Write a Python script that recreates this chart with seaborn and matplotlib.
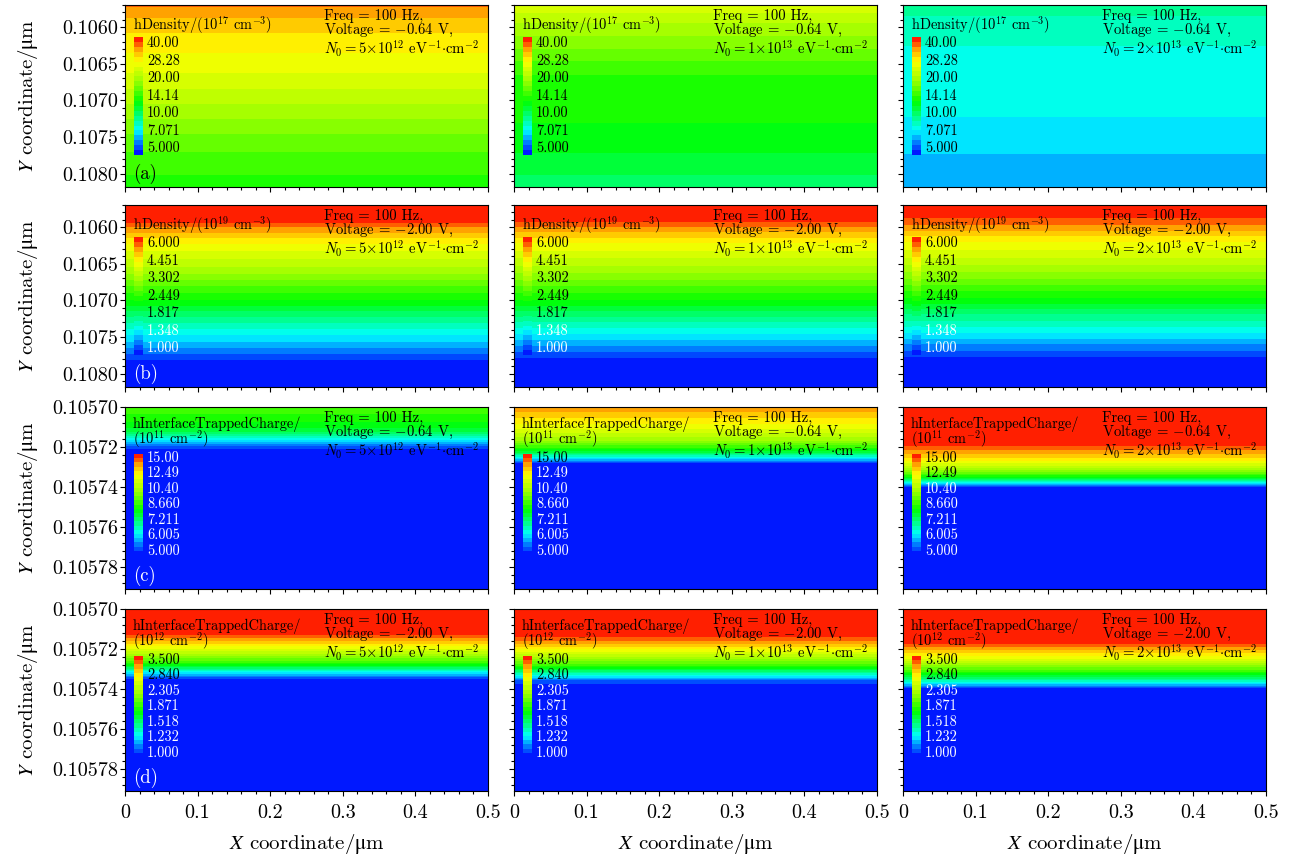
import numpy as np
import matplotlib
matplotlib.use("Agg")
import matplotlib.pyplot as plt
import seaborn as sns
from matplotlib.colors import LinearSegmentedColormap, LogNorm
from matplotlib.ticker import FixedLocator, MultipleLocator

# ---------------- data ----------------
X_EDGES = [0.0, 0.5]
X_TICKS = [0.0, 0.1, 0.2, 0.3, 0.4, 0.5]
X_TICK_LABELS = ["0", "0.1", "0.2", "0.3", "0.4", "0.5"]

N0_MANTISSA = ["5", "1", "2"]
N0_EXPONENT = ["12", "13", "13"]
ROW_VOLTAGE = ["0.64", "2.00", "0.64", "2.00"]
ROW_TAG = ["(a)", "(b)", "(c)", "(d)"]

# rows (a),(b): hole density profiles along Y (uniform in X)
Y_DENS_A = [0.10570, 0.10590, 0.10610, 0.10630, 0.10660, 0.10700, 0.10740, 0.10780, 0.10820]
HDENS_A_N0_5E12 = [34.0, 30.5, 28.0, 26.3, 24.0, 20.4, 17.2, 14.8, 13.6]
HDENS_A_N0_1E13 = [23.5, 20.5, 18.5, 16.8, 14.3, 13.2, 12.9, 11.6, 10.3]
HDENS_A_N0_2E13 = [9.7, 8.98, 8.62, 8.35, 8.15, 7.95, 7.52, 6.98, 6.65]

Y_DENS_B = [0.10570, 0.10590, 0.10600, 0.10620, 0.10640, 0.10680, 0.10700, 0.10720, 0.10740, 0.10760, 0.10780, 0.10820]
HDENS_B_N0_5E12 = [6.0, 5.85, 5.2, 4.2, 3.65, 2.65, 2.25, 1.85, 1.55, 1.30, 1.08, 1.0]
HDENS_B_N0_1E13 = [6.0, 5.80, 5.15, 4.2, 3.60, 2.65, 2.25, 1.85, 1.52, 1.28, 1.06, 1.0]
HDENS_B_N0_2E13 = [6.0, 5.50, 5.0, 4.15, 3.60, 2.60, 2.20, 1.80, 1.50, 1.25, 1.05, 1.0]

# rows (c),(d): interface trapped charge profiles along Y
Y_ITC = [0.105700, 0.105704, 0.105708, 0.105712, 0.105716, 0.105720, 0.105724,
         0.105728, 0.105732, 0.105736, 0.105740, 0.105744, 0.105800]
ITC_C_N0_5E12 = [9.0, 8.6, 8.2, 7.7, 6.4, 5.3, 5.0, 5.0, 5.0, 5.0, 5.0, 5.0, 5.0]
ITC_C_N0_1E13 = [13.5, 12.8, 12.0, 11.2, 10.2, 8.8, 7.0, 5.2, 5.0, 5.0, 5.0, 5.0, 5.0]
ITC_C_N0_2E13 = [15.0, 15.0, 15.0, 15.0, 15.0, 14.2, 13.0, 11.5, 9.8, 7.6, 5.2, 5.0, 5.0]
ITC_D_N0_5E12 = [3.5, 3.5, 3.5, 3.45, 3.0, 2.55, 2.15, 1.75, 1.25, 1.0, 1.0, 1.0, 1.0]
ITC_D_N0_1E13 = [3.5, 3.5, 3.5, 3.5, 3.15, 2.7, 2.3, 1.9, 1.45, 1.08, 1.0, 1.0, 1.0]
ITC_D_N0_2E13 = [3.5, 3.5, 3.5, 3.5, 3.5, 3.05, 2.65, 2.2, 1.8, 1.4, 1.0, 1.0, 1.0]

# colour-bar ranges and labels per row (bottom to top)
CB_RANGE = [(5.0, 40.0), (1.0, 6.0), (5.0, 15.0), (1.0, 3.5)]
CB_TICK_LABELS = [
    ["5.000", "7.071", "10.00", "14.14", "20.00", "28.28", "40.00"],
    ["1.000", "1.348", "1.817", "2.449", "3.302", "4.451", "6.000"],
    ["5.000", "6.005", "7.211", "8.660", "10.40", "12.49", "15.00"],
    ["1.000", "1.232", "1.518", "1.871", "2.305", "2.840", "3.500"],
]
CB_TITLE = ["hDensity/(10$^{17}$ cm$^{-3}$)",
            "hDensity/(10$^{19}$ cm$^{-3}$)",
            "hInterfaceTrappedCharge/\n(10$^{11}$ cm$^{-2}$)",
            "hInterfaceTrappedCharge/\n(10$^{12}$ cm$^{-2}$)"]
# number of colour-bar labels (from the bottom) drawn in white
CB_WHITE_COUNT = [[0, 0, 0], [2, 2, 2], [7, 6, 5], [5, 5, 5]]
TAG_COLOR = ["black", "white", "white", "white"]

Y_LIMITS = [(0.10818, 0.10570), (0.10818, 0.10570), (0.105791, 0.10570), (0.105791, 0.10570)]
Y_TICKS = [
    [0.1060, 0.1065, 0.1070, 0.1075, 0.1080],
    [0.1060, 0.1065, 0.1070, 0.1075, 0.1080],
    [0.10570, 0.10572, 0.10574, 0.10576, 0.10578],
    [0.10570, 0.10572, 0.10574, 0.10576, 0.10578],
]
Y_TICK_LABELS = [
    ["0.1060", "0.1065", "0.1070", "0.1075", "0.1080"],
    ["0.1060", "0.1065", "0.1070", "0.1075", "0.1080"],
    ["0.10570", "0.10572", "0.10574", "0.10576", "0.10578"],
    ["0.10570", "0.10572", "0.10574", "0.10576", "0.10578"],
]
Y_MINOR_STEP = [0.0001, 0.0001, 0.000004, 0.000004]

ROW_Y = [Y_DENS_A, Y_DENS_B, Y_ITC, Y_ITC]
ROW_VALUES = [
    [HDENS_A_N0_5E12, HDENS_A_N0_1E13, HDENS_A_N0_2E13],
    [HDENS_B_N0_5E12, HDENS_B_N0_1E13, HDENS_B_N0_2E13],
    [ITC_C_N0_5E12, ITC_C_N0_1E13, ITC_C_N0_2E13],
    [ITC_D_N0_5E12, ITC_D_N0_1E13, ITC_D_N0_2E13],
]

# ---------------- style ----------------
sns.set_theme(style="ticks", rc={
    "axes.edgecolor": "black", "xtick.color": "black", "ytick.color": "black",
    "text.color": "black", "axes.labelcolor": "black", "axes.linewidth": 0.8,
})
plt.rcParams["font.family"] = ["cmr10", "DejaVu Serif"]
plt.rcParams["mathtext.fontset"] = "cm"
plt.rcParams["axes.unicode_minus"] = False
plt.rcParams["axes.formatter.use_mathtext"] = True

cmap = LinearSegmentedColormap.from_list("sentaurus", [
    (0.00, (0.0, 0.0, 1.0)),
    (0.09, (0.0, 110 / 255, 1.0)),
    (0.21, (0.0, 1.0, 1.0)),
    (0.45, (0.0, 1.0, 0.0)),
    (0.62, (150 / 255, 1.0, 0.0)),
    (0.80, (1.0, 1.0, 0.0)),
    (0.90, (1.0, 160 / 255, 0.0)),
    (1.00, (1.0, 0.0, 0.0)),
])

FIG_W, FIG_H = 1300, 856
COL_LEFT = [125, 514, 903]
ROW_TOP = [5, 205, 407, 609]
PW, PH = 363, 182

fig = plt.figure(figsize=(FIG_W / 100, FIG_H / 100), dpi=100)

for r in range(4):
    lo, hi = CB_RANGE[r]
    levels = np.geomspace(lo, hi, 25)
    for c in range(3):
        ax = fig.add_axes([COL_LEFT[c] / FIG_W, 1 - (ROW_TOP[r] + PH) / FIG_H,
                           PW / FIG_W, PH / FIG_H])
        prof = np.asarray(ROW_VALUES[r][c], dtype=float)
        Z = np.tile(prof[:, None], (1, len(X_EDGES)))
        cs = ax.contourf(X_EDGES, ROW_Y[r], Z, levels=levels, cmap=cmap,
                         norm=LogNorm(vmin=lo, vmax=hi))
        ax.set_xlim(0, 0.5)
        ax.set_ylim(*Y_LIMITS[r])

        # ticks
        ax.xaxis.set_major_locator(FixedLocator(X_TICKS))
        ax.xaxis.set_minor_locator(MultipleLocator(0.02))
        ax.yaxis.set_major_locator(FixedLocator(Y_TICKS[r]))
        ax.yaxis.set_minor_locator(MultipleLocator(Y_MINOR_STEP[r]))
        ax.tick_params(which="both", direction="out", top=False, right=False,
                       width=0.8, labelsize=14.5)
        ax.tick_params(which="major", length=3.6)
        ax.tick_params(which="minor", length=2.2)
        ax.tick_params(axis="y", pad=1.5)
        ax.tick_params(axis="x", pad=5.5)
        if c == 0:
            ax.set_yticklabels(Y_TICK_LABELS[r])
            ax.set_ylabel(r"$Y$ coordinate/$\mathrm{\mu}$m", fontsize=15,
                          math_fontfamily="stix")
            ax.yaxis.set_label_coords(-0.235, 0.5)
        else:
            ax.tick_params(axis="y", labelleft=False)
        if r == 3:
            ax.set_xticklabels(X_TICK_LABELS)
            ax.set_xlabel(r"$X$ coordinate/$\mathrm{\mu}$m", fontsize=15,
                          math_fontfamily="stix")
            ax.xaxis.set_label_coords(0.5, -0.225)
        else:
            ax.tick_params(axis="x", labelbottom=False)
        for sp in ax.spines.values():
            sp.set_visible(True)
            sp.set_color("black")
            sp.set_linewidth(0.8)

        # annotation text (one block)
        note = ("Freq = 100 Hz,\n"
                "Voltage = $-$" + ROW_VOLTAGE[r] + " V,\n"
                r"$N_0 = " + N0_MANTISSA[c] + r"{\times}10^{" + N0_EXPONENT[c] + r"}$"
                + r" eV$^{-1}{\cdot}$cm$^{-2}$")
        ax.text(0.547, 1 - 4 / PH, note, transform=ax.transAxes,
                fontsize=10.6, va="top", ha="left", linespacing=0.95)

        # colour-bar title and inset colour bar
        if r < 2:
            title_top, cb_top, cb_bot, inset = 9.5, 32, 150, 6.5
        else:
            title_top, cb_top, cb_bot, inset = 9, 47, 148, 4
        ax.text(0.022, 1 - title_top / PH, CB_TITLE[r], transform=ax.transAxes,
                fontsize=10.4, va="top", ha="left", linespacing=0.8)
        cb_h = cb_bot - cb_top

        cax = ax.inset_axes([9 / PW, 1 - cb_bot / PH, 9 / PW, cb_h / PH])
        cb = fig.colorbar(cs, cax=cax)
        cb.outline.set_visible(False)
        cb.set_ticks([])
        cax.minorticks_off()
        labels = CB_TICK_LABELS[r]
        nwhite = CB_WHITE_COUNT[r][c]
        n = len(labels)
        for i, lab in enumerate(labels):
            yf = (inset + i * (cb_h - 2 * inset) / (n - 1)) / cb_h
            cax.text(1 + 4 / 9, yf, lab, transform=cax.transAxes, fontsize=10.3,
                     va="center", ha="left",
                     color="white" if i < nwhite else "black")

        if c == 0:
            ax.text(0.022, 8 / PH, ROW_TAG[r], transform=ax.transAxes, fontsize=13.5,
                    va="baseline", ha="left", color=TAG_COLOR[r])

fig.savefig("out.png", dpi=100)
